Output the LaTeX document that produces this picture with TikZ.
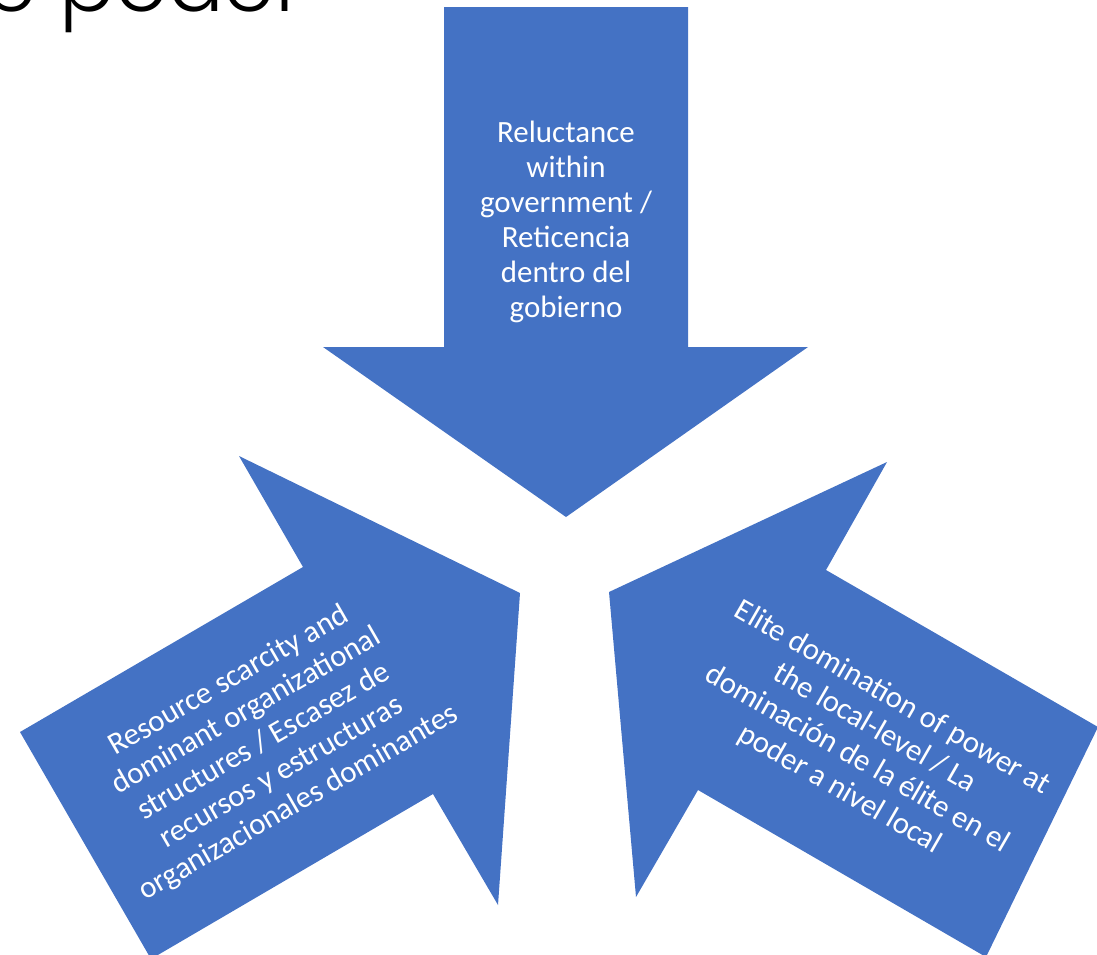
\documentclass[tikz,border=0pt]{standalone}
\usepackage{fontspec}
\setmainfont{Carlito}
\newfontfamily\titlefont{Poppins Light}
\definecolor{arrowblue}{HTML}{4472C4}

\begin{document}
\begin{tikzpicture}[x=0.02cm, y=-0.02cm,
    arrowfill/.style={fill=arrowblue},
    arrowtext/.style={text=white, align=center, font=\fontsize{17.6}{20}\selectfont}]
    \useasboundingbox (0,0) rectangle (1097,954);
    \clip (0,0) rectangle (1097,954);
    \node[anchor=base west, inner sep=0pt, font=\titlefont\fontsize{47}{56}\selectfont] (title) at (-15,11) {e poder};
    % the three arrows
    \fill[arrowfill] (444,7) -- (688,7) -- (688,347) -- (808,347) -- (566,517) -- (323,347) -- (444,347) -- cycle;
    \fill[arrowfill] (520,593) -- (498,905) -- (433,794) -- (151,959) -- (20,732) -- (303,567) -- (239,456) -- cycle;
    \fill[arrowfill] (609,592) -- (887,462) -- (826,570) -- (1098,727) -- (986,957) -- (698,790) -- (636,897) -- cycle;
    % texts
    \node[arrowtext] (gov) at (566,222) {Reluctance\\within\\government /\\Reticencia\\dentro del\\gobierno};
    \node[arrowtext, rotate=30] (res) at (264,742) {Resource scarcity and\\dominant organizational\\structures / Escasez de\\recursos y estructuras\\organizacionales dominantes};
    \node[arrowtext, rotate=-30] (elite) at (866,744) {Elite domination of power at\\the local-level / La\\dominación de la élite en el\\poder a nivel local};
\end{tikzpicture}
\end{document}
